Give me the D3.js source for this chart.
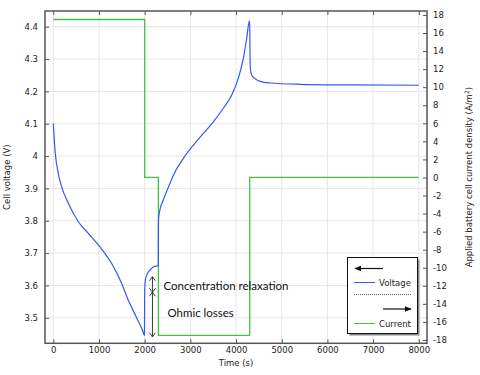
<!DOCTYPE html>
<html>
<head>
<meta charset="utf-8">
<script src="https://cdn.jsdelivr.net/npm/d3@7"></script>
<style>
body { margin:0; background:#fff; }
text { font-family: "DejaVu Sans", sans-serif; fill:#222; }
.tick text { font-size:8.5px; }
.note { font-family: Lato, "Open Sans", sans-serif; font-size:11.5px; fill:#111; }
</style>
</head>
<body>
<svg id="chart" width="480" height="375"></svg>
<script>
// cell voltage (V) vs time (s)
var voltTime = [0, 37, 110, 183, 329, 547, 766, 1022, 1278, 1497, 1642, 1800, 1950, 1995,
    2000, 2015, 2050, 2100, 2190, 2298,
    2302, 2315, 2335, 2407, 2446, 2553, 2628, 2847, 3066, 3284, 3503, 3722, 3906, 4051, 4161, 4234, 4292,
    4300, 4306, 4315, 4340, 4380, 4450, 4526, 4745, 5400, 6500, 8000];
var voltage = [4.101, 4.018, 3.946, 3.905, 3.854, 3.797, 3.761, 3.719, 3.668, 3.606, 3.554, 3.507, 3.462, 3.446,
    3.585, 3.616, 3.634, 3.645, 3.657, 3.662,
    3.800, 3.820, 3.835, 3.864, 3.879, 3.915, 3.941, 3.993, 4.034, 4.070, 4.106, 4.148, 4.189, 4.241, 4.303, 4.365, 4.418,
    4.400, 4.300, 4.270, 4.252, 4.243, 4.236, 4.231, 4.226, 4.222, 4.220, 4.219];

// applied current density (A/m^2), step changes
var currTime = [0, 2000, 2300, 4300, 8000];
var current = [17.5, 0, -17.5, 0, 0];

var xTicks = [0, 1000, 2000, 3000, 4000, 5000, 6000, 7000, 8000];
var vTicks = [3.5, 3.6, 3.7, 3.8, 3.9, 4, 4.1, 4.2, 4.3, 4.4];
var iTicks = [-18, -16, -14, -12, -10, -8, -6, -4, -2, 0, 2, 4, 6, 8, 10, 12, 14, 16, 18];

// annotation arrows (time, voltage levels)
var arrowTime = 2170;
var arrowLevels = [3.441, 3.579, 3.627];

var svg = d3.select("#chart");
var plot = {left:45, right:427, top:11, bottom:343.3};

var xScale = d3.scaleLinear().domain([-182, 8180]).range([plot.left, plot.right]);
var yScale = d3.scaleLinear().domain([3.4211, 4.4486]).range([plot.bottom, plot.top]);
var iScale = d3.scaleLinear().domain([-18.37, 18.44]).range([plot.bottom, plot.top]);

var plainNum = function(d) { return String(d); };

// grid
var grid = svg.append("g");
grid.selectAll(".gx").data(xTicks).enter().append("line")
    .attr("x1", d => xScale(d)).attr("x2", d => xScale(d))
    .attr("y1", plot.top).attr("y2", plot.bottom)
    .attr("stroke", "#e6e6e6").attr("stroke-width", 1);
grid.selectAll(".gy").data(vTicks).enter().append("line")
    .attr("x1", plot.left).attr("x2", plot.right)
    .attr("y1", d => yScale(d)).attr("y2", d => yScale(d))
    .attr("stroke", "#e6e6e6").attr("stroke-width", 1);

// lines
var currLine = d3.line()
    .x((d, i) => xScale(currTime[i]))
    .y(d => iScale(d))
    .curve(d3.curveStepAfter);
svg.append("path").datum(current)
    .attr("d", currLine).attr("fill", "none")
    .attr("stroke", "#44c144").attr("stroke-width", 1.3);

var voltLine = d3.line()
    .x((d, i) => xScale(voltTime[i]))
    .y(d => yScale(d))
    .curve(d3.curveMonotoneX);
svg.append("path").datum(voltage)
    .attr("d", voltLine).attr("fill", "none")
    .attr("stroke", "#3458f5").attr("stroke-width", 1.2);

// axes (ticks inward)
var axisColor = "#555";
var drawAxis = function(axis, tx, ty) {
    var g = svg.append("g").attr("transform", "translate(" + tx + "," + ty + ")").call(axis);
    g.select(".domain").remove();
    g.selectAll(".tick line").attr("stroke", axisColor);
    return g;
};
drawAxis(d3.axisBottom(xScale).tickValues(xTicks).tickSize(-4).tickPadding(4).tickFormat(plainNum), 0, plot.bottom);
drawAxis(d3.axisTop(xScale).tickValues(xTicks).tickSize(-4).tickFormat(""), 0, plot.top);
drawAxis(d3.axisLeft(yScale).tickValues(vTicks).tickSize(-4).tickPadding(7).tickFormat(plainNum), plot.left, 0);
drawAxis(d3.axisRight(iScale).tickValues(iTicks).tickSize(-4).tickPadding(6).tickFormat(plainNum), plot.right, 0);

svg.append("rect")
    .attr("x", plot.left).attr("y", plot.top)
    .attr("width", plot.right - plot.left).attr("height", plot.bottom - plot.top)
    .attr("fill", "none").attr("stroke", axisColor).attr("stroke-width", 1.5);

// axis titles
svg.append("text").text("Time (s)")
    .attr("x", xScale(4000)).attr("y", 366)
    .attr("text-anchor", "middle").style("font-size", "8.5px");
svg.append("text").text("Cell voltage (V)")
    .attr("transform", "translate(10," + (plot.top + plot.bottom) / 2 + ") rotate(-90)")
    .attr("text-anchor", "middle").style("font-size", "8.5px");
var rt = svg.append("text")
    .attr("transform", "translate(472," + (plot.top + plot.bottom) / 2 + ") rotate(-90)")
    .attr("text-anchor", "middle").style("font-size", "8.5px");
rt.append("tspan").text("Applied battery cell current density (A/m");
rt.append("tspan").text("2").attr("dy", -3).style("font-size", "6px");
rt.append("tspan").text(")").attr("dy", 3);

// annotation arrows
var ax = xScale(arrowTime);
var chev = function(y, dir) {
    svg.append("path")
        .attr("d", "M" + (ax - 3) + "," + (y + dir * 4) + "L" + ax + "," + y + "L" + (ax + 3) + "," + (y + dir * 4))
        .attr("fill", "none").attr("stroke", "#222").attr("stroke-width", 0.9);
};
for (var k = 0; k < arrowLevels.length - 1; k++) {
    var y1 = yScale(arrowLevels[k]), y2 = yScale(arrowLevels[k + 1]);
    svg.append("line").attr("x1", ax).attr("x2", ax).attr("y1", y1).attr("y2", y2)
        .attr("stroke", "#222").attr("stroke-width", 0.9);
    chev(y1, -1);
    chev(y2, 1);
}
svg.append("text").attr("class", "note").text("Concentration relaxation")
    .attr("x", ax + 11).attr("y", 289.5);
svg.append("text").attr("class", "note").text("Ohmic losses")
    .attr("x", ax + 15).attr("y", 316.5);

// legend
var lg = {x:347.5, y:257.5, w:70, h:76};
svg.append("rect").attr("x", lg.x + 2).attr("y", lg.y + 2).attr("width", lg.w).attr("height", lg.h)
    .attr("fill", "#888");
svg.append("rect").attr("x", lg.x).attr("y", lg.y).attr("width", lg.w).attr("height", lg.h)
    .attr("fill", "#fff").attr("stroke", "#111").attr("stroke-width", 1);

var defs = svg.append("defs");
defs.append("marker").attr("id", "head").attr("viewBox", "0 0 10 10")
    .attr("refX", 9).attr("refY", 5).attr("markerWidth", 7).attr("markerHeight", 7)
    .attr("markerUnits", "userSpaceOnUse").attr("orient", "auto")
    .append("path").attr("d", "M0,1L10,5L0,9Z").attr("fill", "#111");

svg.append("line").attr("x1", 383).attr("x2", 355).attr("y1", 268.5).attr("y2", 268.5)
    .attr("stroke", "#111").attr("stroke-width", 1.2).attr("marker-end", "url(#head)");
svg.append("line").attr("x1", 354).attr("x2", 375).attr("y1", 282.5).attr("y2", 282.5)
    .attr("stroke", "#3458f5").attr("stroke-width", 1);
svg.append("text").text("Voltage").attr("x", 379).attr("y", 285.5).style("font-size", "8.5px");
svg.append("line").attr("x1", 354).attr("x2", 412).attr("y1", 294.5).attr("y2", 294.5)
    .attr("stroke", "#666").attr("stroke-width", 1).attr("stroke-dasharray", "1,1");
svg.append("line").attr("x1", 383).attr("x2", 411).attr("y1", 309).attr("y2", 309)
    .attr("stroke", "#111").attr("stroke-width", 1.2).attr("marker-end", "url(#head)");
svg.append("line").attr("x1", 354).attr("x2", 375).attr("y1", 323.5).attr("y2", 323.5)
    .attr("stroke", "#44c144").attr("stroke-width", 1);
svg.append("text").text("Current").attr("x", 379).attr("y", 326.5).style("font-size", "8.5px");
</script>
</body>
</html>
